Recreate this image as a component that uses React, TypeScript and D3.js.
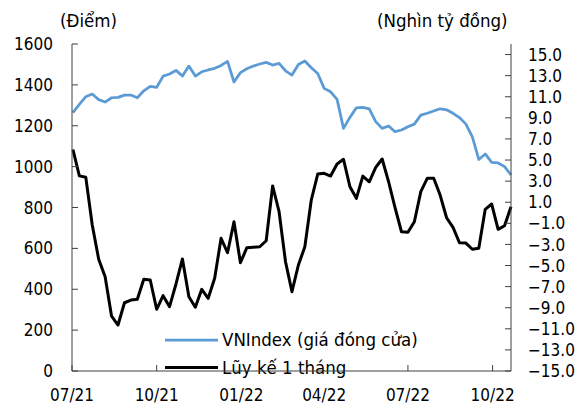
import React, { useEffect, useRef } from "react";
import * as d3 from "d3";

// weekly closes, first week ends 02/07/2021
const firstWeek = new Date(2021, 6, 2);

const vnIndex = [
  1264, 1305, 1342, 1355, 1328, 1316, 1337, 1339, 1350, 1350,
  1337, 1371, 1393, 1388, 1443, 1453, 1471, 1443, 1492, 1443,
  1464, 1473, 1481, 1495, 1515, 1414, 1460, 1479, 1492, 1502,
  1510, 1497, 1505, 1469, 1448, 1500, 1517, 1484, 1456, 1383,
  1366, 1329, 1187, 1241, 1288, 1290, 1283, 1220, 1187, 1199,
  1171, 1179, 1195, 1208, 1252, 1261, 1272, 1283, 1278, 1261,
  1240, 1208, 1146, 1035, 1062, 1021, 1018, 1000, 959,
];

// cumulative 1-month value (nghìn tỷ đồng)
const cumFlow = [
  6.0, 3.5, 3.36, -1.16, -4.4, -6.06, -9.8, -10.64, -8.53, -8.27,
  -8.2, -6.31, -6.37, -9.15, -7.86, -8.9, -6.75, -4.38, -7.96, -8.96,
  -7.26, -8.11, -6.21, -2.42, -3.79, -0.85, -4.73, -3.31, -3.27, -3.22,
  -2.65, 2.54, 0.1, -4.64, -7.48, -4.95, -3.22, 1.21, 3.67, 3.74,
  3.48, 4.62, 5.07, 2.47, 1.37, 3.48, 2.94, 4.3, 5.1, 2.94,
  0.48, -1.8, -1.85, -0.85, 2.0, 3.27, 3.27, 1.68, -0.47, -1.38,
  -2.84, -2.87, -3.46, -3.37, 0.33, 0.83, -1.57, -1.23, 0.57,
];

const leftTicks = [0, 200, 400, 600, 800, 1000, 1200, 1400, 1600];
const rightTicks = [-15, -13, -11, -9, -7, -5, -3, -1, 1, 3, 5, 7, 9, 11, 13, 15];
const quarterDates = ["2021-07-01", "2021-10-01", "2022-01-01", "2022-04-01", "2022-07-01", "2022-10-01"];
const quarterLabels = ["07/21", "10/21", "01/22", "04/22", "07/22", "10/22"];

const legendNames = ["VNIndex (giá đóng cửa)", "Lũy kế 1 tháng"];

const W = 579;
const H = 407;
const FONT = "'DejaVu Sans Condensed', 'DejaVu Sans', sans-serif";

export default function App() {
  const ref = useRef<SVGSVGElement>(null);

  useEffect(() => {
    const svg = d3.select(ref.current);
    svg.selectAll("*").remove();

    const left = 72, right = 511, top = 44, bottom = 371;

    const dates = vnIndex.map((_, i) => d3.timeDay.offset(firstWeek, i * 7));
    const tickDates = quarterDates.map(s => d3.timeParse("%Y-%m-%d")(s) as Date);

    const x = d3.scaleTime()
      .domain([tickDates[0], dates[dates.length - 1]])
      .range([left, right]);
    const yL = d3.scaleLinear().domain([0, 1600]).range([bottom, top]);
    const yR = d3.scaleLinear().domain([-15, 16]).range([bottom, top]);

    const g = svg.append("g").style("font-family", FONT).style("font-size", "17px");

    // lines
    const lineL = d3.line<number>().x((_, i) => x(dates[i])).y(d => yL(d));
    const lineR = d3.line<number>().x((_, i) => x(dates[i])).y(d => yR(d));

    g.append("path").datum(vnIndex)
      .attr("d", lineL).attr("fill", "none")
      .attr("stroke", "#5b9bd5").attr("stroke-width", 2.75)
      .attr("stroke-linejoin", "round");

    g.append("path").datum(cumFlow)
      .attr("d", lineR).attr("fill", "none")
      .attr("stroke", "#000").attr("stroke-width", 3)
      .attr("stroke-linejoin", "round");

    // left axis
    g.append("line").attr("x1", left).attr("x2", left).attr("y1", top).attr("y2", bottom)
      .attr("stroke", "#404040");
    leftTicks.forEach(t => {
      g.append("line").attr("x1", left).attr("x2", left + 6)
        .attr("y1", yL(t)).attr("y2", yL(t)).attr("stroke", "#404040");
      g.append("text").attr("x", 53).attr("y", yL(t)).attr("dy", "0.36em")
        .attr("text-anchor", "end").text(t);
    });

    // right axis
    g.append("line").attr("x1", right).attr("x2", right).attr("y1", top).attr("y2", bottom)
      .attr("stroke", "#404040");
    rightTicks.forEach(t => {
      g.append("line").attr("x1", right - 6).attr("x2", right)
        .attr("y1", yR(t)).attr("y2", yR(t)).attr("stroke", "#404040");
      g.append("text").attr("x", 528).attr("y", yR(t)).attr("dy", "0.36em")
        .text(d3.format(".1f")(t));
    });

    // x ticks + labels
    tickDates.forEach((d, i) => {
      g.append("line").attr("x1", x(d)).attr("x2", x(d))
        .attr("y1", bottom - 6).attr("y2", bottom).attr("stroke", "#404040");
      g.append("text").attr("x", x(d)).attr("y", 401)
        .attr("text-anchor", "middle").text(quarterLabels[i]);
    });

    // legend (white box hides the ticks behind it)
    g.append("rect").attr("x", 160).attr("y", 326).attr("width", 240).attr("height", 44)
      .attr("fill", "#fff");
    const legColors = ["#5b9bd5", "#000"];
    legendNames.forEach((name, i) => {
      const ly = 340 + i * 27.5;
      g.append("line").attr("x1", 165).attr("x2", 218).attr("y1", ly).attr("y2", ly)
        .attr("stroke", legColors[i]).attr("stroke-width", i === 0 ? 2.75 : 3);
      g.append("text").attr("x", 222).attr("y", ly + 6).style("font-size", "18.5px").text(name);
    });

    // baseline drawn on top
    g.append("line").attr("x1", left).attr("x2", right).attr("y1", bottom).attr("y2", bottom)
      .attr("stroke", "#404040");

    // unit titles
    g.append("text").attr("x", 60).attr("y", 27).style("font-size", "18.5px").text("(Điểm)");
    g.append("text").attr("x", 377).attr("y", 27).style("font-size", "18.5px").text("(Nghìn tỷ đồng)");
  }, []);

  return (
    <svg ref={ref} width={W} height={H}
      style={{ position: "absolute", left: 0, top: 0, background: "#fff" }} />
  );
}
